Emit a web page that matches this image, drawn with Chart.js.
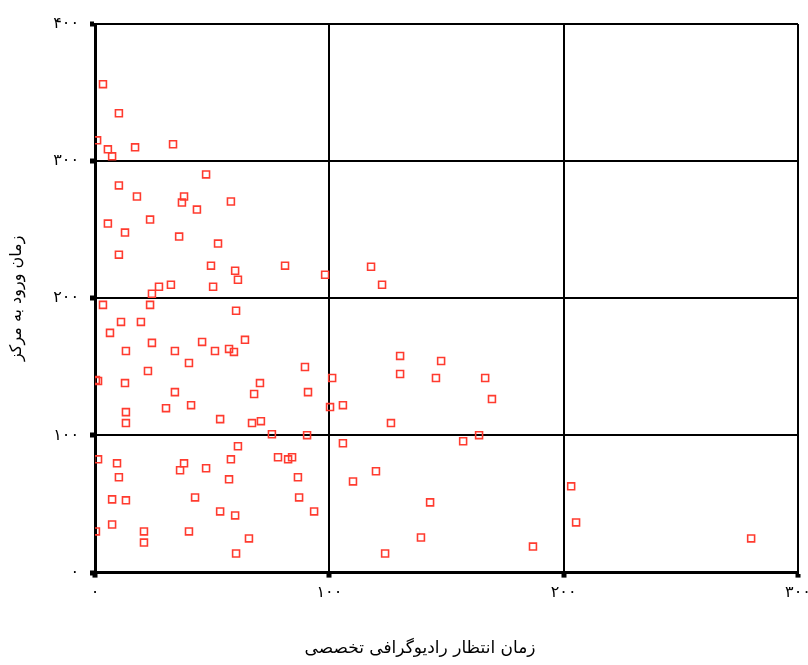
<!DOCTYPE html>
<html>
<head>
<meta charset="utf-8">
<script src="https://cdn.jsdelivr.net/npm/chart.js@4/dist/chart.umd.min.js"></script>
<style>
    html, body { margin: 0; padding: 0; background: #fff; }
    #wrap { width: 808px; height: 665px; }
</style>
</head>
<body>
<div id="wrap"><canvas id="scatterChart" width="808" height="665"></canvas></div>
<script>
// Data
const xTitle = 'زمان انتظار رادیوگرافی تخصصی';
const yTitle = 'زمان ورود به مرکز';
const persianDigits = ['۰', '۱', '۲', '۳', '۴', '۵', '۶', '۷', '۸', '۹'];

const waitTimes = [
    3.4, 10.2, 0.9, 5.5, 7.3, 17.1, 33.3, 47.4, 10.2, 17.9,
    38.0, 37.1, 43.5, 58.0, 5.5, 12.8, 23.5, 35.9, 52.5, 10.2,
    49.5, 59.8, 61.0, 32.4, 27.3, 24.3, 50.4, 3.4, 23.5, 60.2,
    11.1, 19.6, 6.4, 24.3, 45.7, 64.0, 13.2, 34.1, 51.2, 57.2,
    59.3, 40.1, 22.6, 0.4, 1.3, 12.8, 70.4, 34.1, 67.9, 30.3,
    41.0, 13.2, 13.2, 53.4, 67.0, 70.8, 1.3, 9.4, 10.2, 38.0,
    36.3, 47.4, 61.0, 58.0, 57.2, 7.3, 13.2, 42.7, 53.4, 59.8,
    0.4, 7.3, 20.9, 20.9, 40.1, 65.7, 60.2, 81.1, 98.2, 117.8,
    122.5, 130.2, 147.7, 89.6, 101.2, 130.2, 145.5, 166.5, 90.9, 169.4,
    100.3, 105.8, 126.3, 75.5, 90.5, 105.8, 157.1, 163.9, 78.1, 82.4,
    84.1, 86.6, 110.1, 119.9, 87.1, 93.5, 143.0, 139.1, 123.8, 186.9,
    203.2, 205.3, 280.0
];

const arrivalTimes = [
    356.1, 334.9, 315.2, 308.6, 303.5, 310.1, 312.3, 290.3, 282.3, 274.2,
    274.2, 269.8, 264.7, 270.6, 254.5, 247.9, 257.4, 245.0, 239.9, 231.8,
    223.8, 220.1, 213.5, 209.9, 208.4, 203.3, 208.4, 195.2, 195.2, 190.9,
    182.8, 182.8, 174.8, 167.5, 168.2, 169.7, 161.6, 161.6, 161.6, 163.1,
    160.9, 152.8, 147.0, 140.4, 139.7, 138.2, 138.2, 131.6, 130.2, 119.9,
    122.1, 117.0, 109.0, 111.9, 109.0, 110.4, 82.6, 79.7, 69.5, 79.7,
    74.6, 76.1, 92.1, 82.6, 68.0, 53.4, 52.7, 54.8, 44.6, 41.7,
    30.0, 35.1, 30.0, 21.9, 30.0, 24.9, 13.9, 223.8, 217.2, 223.0,
    209.9, 158.0, 154.3, 149.9, 141.9, 144.8, 141.9, 141.9, 131.6, 126.5,
    120.7, 122.1, 109.0, 100.9, 100.2, 94.3, 95.8, 100.2, 84.1, 82.6,
    84.1, 69.5, 66.5, 73.9, 54.8, 44.6, 51.2, 25.6, 13.9, 19.0,
    62.9, 36.6, 24.9
];

const xTicks = [0, 100, 200, 300];
const yTicks = [0, 100, 200, 300, 400];

// Convert a number to Persian digits
function toPersian(n) {
    return String(n).replace(/[0-9]/g, d => persianDigits[+d]);
}

const points = waitTimes.map((x, i) => ({ x: x, y: arrivalTimes[i] }));

const fontFamily = '"DejaVu Sans", sans-serif';

const ctx = document.getElementById('scatterChart');
new Chart(ctx, {
    type: 'scatter',
    data: {
        datasets: [{
            data: points,
            pointStyle: 'rect',
            pointRadius: 4.9,
            pointHoverRadius: 4.9,
            borderWidth: 1.6,
            borderColor: '#ff3b2f',
            backgroundColor: 'rgba(0,0,0,0)'
        }]
    },
    options: {
        responsive: false,
        animation: false,
        layout: {
            // left padding shifts the bottom title to the right, like the reference
            padding: { top: 24, right: 10, left: 42, bottom: 0 }
        },
        plugins: {
            legend: { display: false },
            tooltip: { enabled: false },
            title: {
                display: true,
                position: 'bottom',
                text: xTitle,
                color: '#000',
                font: { family: fontFamily, size: 17, weight: 'normal' },
                padding: { top: 4, bottom: 6 }
            }
        },
        scales: {
            x: {
                type: 'linear',
                min: 0,
                max: 300,
                afterBuildTicks: axis => {
                    axis.ticks = xTicks.map(v => ({ value: v }));
                },
                afterFit: axis => {
                    axis.height = 62;
                    axis.paddingLeft = 0;
                    axis.paddingRight = 0;
                },
                border: { display: true, color: '#000', width: 3 },
                grid: {
                    color: '#000',
                    lineWidth: 2,
                    drawTicks: true,
                    tickLength: 5,
                    tickWidth: 5,
                    tickColor: '#000'
                },
                ticks: {
                    color: '#000',
                    padding: 6,
                    maxRotation: 0,
                    font: { family: fontFamily, size: 16 },
                    callback: v => toPersian(v)
                }
            },
            y: {
                type: 'linear',
                min: 0,
                max: 400,
                afterBuildTicks: axis => {
                    axis.ticks = yTicks.map(v => ({ value: v }));
                },
                afterFit: axis => {
                    axis.width = 53;
                    axis.paddingTop = 0;
                    axis.paddingBottom = 0;
                },
                border: { display: true, color: '#000', width: 3 },
                grid: {
                    color: '#000',
                    lineWidth: 2,
                    drawTicks: true,
                    tickLength: 5,
                    tickWidth: 5,
                    tickColor: '#000'
                },
                ticks: {
                    color: '#000',
                    padding: 11,
                    font: { family: fontFamily, size: 16 },
                    callback: v => toPersian(v)
                },
                title: {
                    display: true,
                    text: yTitle,
                    color: '#000',
                    font: { family: fontFamily, size: 16 },
                    // negative top padding puts the title back at the left edge
                    padding: { top: -35, bottom: 0 }
                }
            }
        }
    }
});
</script>
</body>
</html>
